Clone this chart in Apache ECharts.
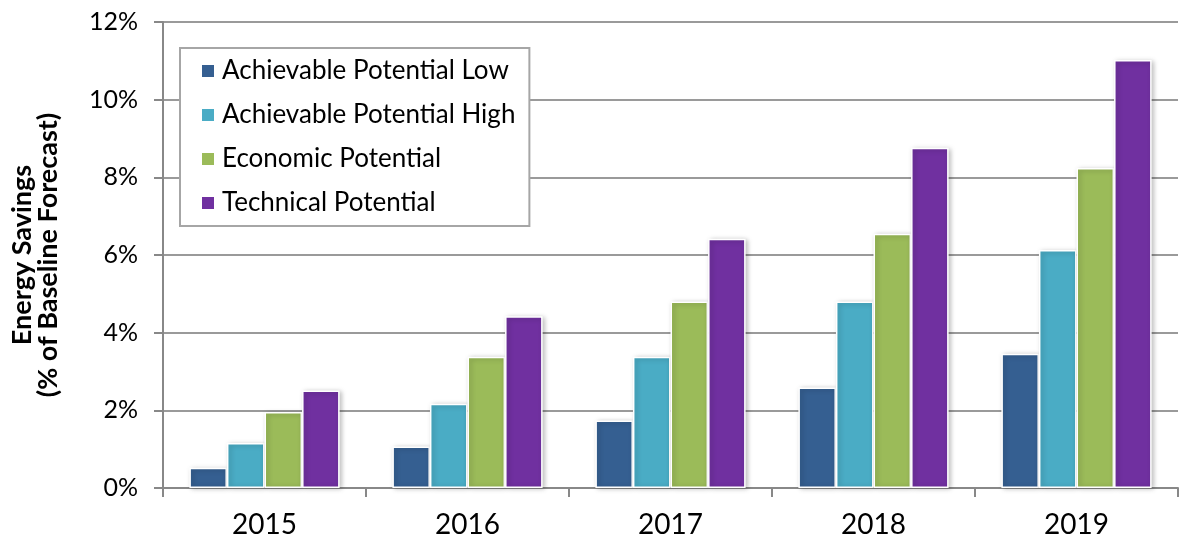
<!DOCTYPE html>
<html>
<head>
<meta charset="utf-8">
<script src="https://cdn.jsdelivr.net/npm/echarts@6/dist/echarts.min.js"></script>
<style>
  html, body { margin: 0; padding: 0; background: #fff; }
  #chart { width: 1183px; height: 542px; }
</style>
</head>
<body>
<div id="chart"></div>
<script>
// Energy savings by year, as percent of the baseline forecast
const years = ['2015', '2016', '2017', '2018', '2019'];
const seriesNames = [
  'Achievable Potential Low',
  'Achievable Potential High',
  'Economic Potential',
  'Technical Potential'
];
const achievableLow  = [0.52, 1.07, 1.74, 2.59, 3.46];
const achievableHigh = [1.16, 2.17, 3.38, 4.80, 6.13];
const economic       = [1.96, 3.38, 4.80, 6.55, 8.24];
const technical      = [2.51, 4.42, 6.42, 8.76, 11.02];
const yTicks = [0, 2, 4, 6, 8, 10, 12];

const colors = ['#355f91', '#4aacc5', '#9bbb59', '#7030a0'];
const values = [achievableLow, achievableHigh, economic, technical];
const FONT = 'Lato, "Open Sans", sans-serif';

const chart = echarts.init(document.getElementById('chart'), null, { renderer: 'canvas' });

chart.setOption({
  animation: false,
  textStyle: { fontFamily: FONT },
  grid: { left: 163, right: 5, top: 22, bottom: 54, containLabel: false, outerBoundsMode: 'none' },
  legend: {
    orient: 'vertical',
    left: 180,
    top: 48,
    padding: [10, 14, 10, 20],
    backgroundColor: '#ffffff',
    borderColor: '#a6a6a6',
    borderWidth: 2,
    borderRadius: 0,
    itemWidth: 14,
    itemHeight: 14,
    itemGap: 18,
    icon: 'rect',
    data: seriesNames,
    textStyle: { fontFamily: FONT, fontSize: 26, color: '#000', padding: [0, 0, 0, 2] }
  },
  xAxis: {
    type: 'category',
    data: years,
    boundaryGap: true,
    axisLine: { lineStyle: { color: '#888888', width: 2 } },
    axisTick: { show: true, length: 9, lineStyle: { color: '#888888', width: 2 } },
    axisLabel: { fontFamily: FONT, fontSize: 28, color: '#000', margin: 23 }
  },
  yAxis: {
    type: 'value',
    min: yTicks[0],
    max: yTicks[yTicks.length - 1],
    interval: 2,
    name: 'Energy Savings\n(% of Baseline Forecast)',
    nameLocation: 'middle',
    nameRotate: 90,
    nameGap: 102,
    nameTextStyle: { fontFamily: FONT, fontSize: 27, fontWeight: 'bold', color: '#000', lineHeight: 26 },
    axisLine: { show: true, lineStyle: { color: '#888888', width: 2 } },
    axisTick: { show: true, length: 9, inside: false, lineStyle: { color: '#888888', width: 2 } },
    axisLabel: { fontFamily: FONT, fontSize: 25, color: '#000', margin: 25, formatter: '{value}%' },
    splitLine: { show: true, lineStyle: { color: '#9a9a9a', width: 2 } }
  },
  series: seriesNames.map((name, i) => ({
    name: name,
    type: 'bar',
    data: values[i],
    barGap: '0%',
    barCategoryGap: '26%',
    itemStyle: {
      color: colors[i],
      borderColor: '#ffffff',
      borderWidth: 1.5,
      shadowBlur: 5,
      shadowColor: 'rgba(0,0,0,0.28)',
      shadowOffsetX: 2,
      shadowOffsetY: 1
    }
  }))
});
</script>
</body>
</html>
